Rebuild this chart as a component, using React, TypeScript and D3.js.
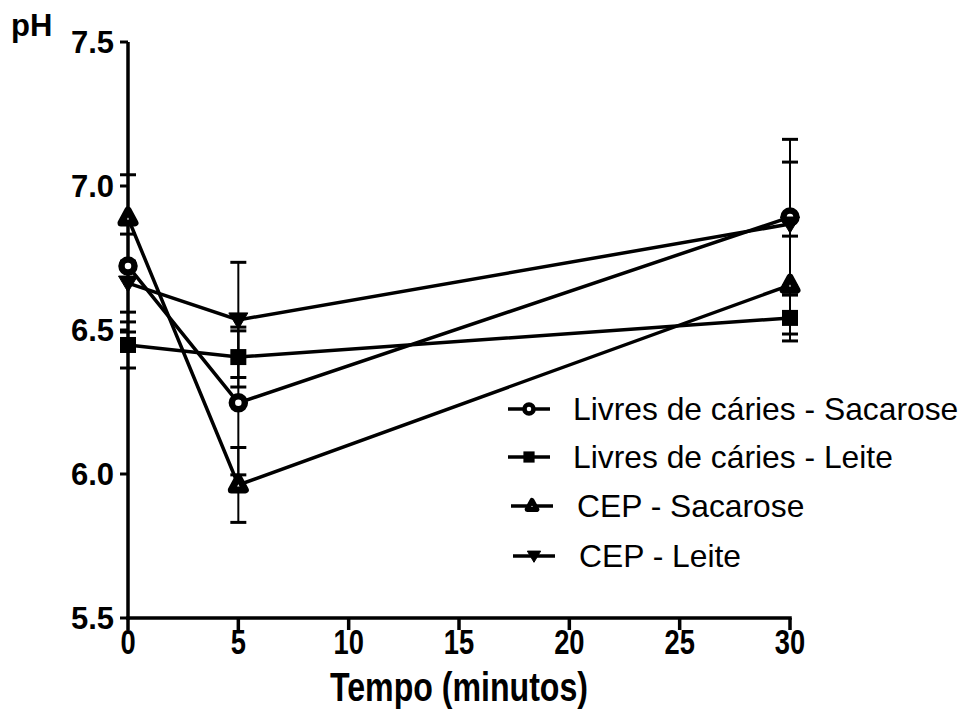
import React from "react";
import * as d3 from "d3";

const times = [0, 5, 30];
const seriesNames = [
  "Livres de cáries - Sacarose",
  "Livres de cáries - Leite",
  "CEP - Sacarose",
  "CEP - Leite",
];
const livresSacarose = [6.722, 6.247, 6.892];
const livresSacaroseErr = [0.16, 0.25, 0.27];
const livresLeite = [6.448, 6.406, 6.542];
const livresLeiteErr = [0.08, 0.104, 0.08];
const cepSacarose = [6.889, 5.962, 6.656];
const cepSacaroseErr = [0.15, 0.13, 0.17];
const cepLeite = [6.663, 6.535, 6.868];
const cepLeiteErr = [0.17, 0.2, 0.215];
const xTicks = [0, 5, 10, 15, 20, 25, 30];
const yTicks = [5.5, 6.0, 6.5, 7.0, 7.5];

const series = [
  { name: seriesNames[0], values: livresSacarose, err: livresSacaroseErr, marker: "circle" },
  { name: seriesNames[1], values: livresLeite, err: livresLeiteErr, marker: "square" },
  { name: seriesNames[2], values: cepSacarose, err: cepSacaroseErr, marker: "triangle" },
  { name: seriesNames[3], values: cepLeite, err: cepLeiteErr, marker: "down" },
];

const x = d3.scaleLinear().domain([0, 30]).range([128, 790]);
const y = d3.scaleLinear().domain([5.5, 7.5]).range([618, 42]);

function Marker({ type, cx, cy, s = 1 }: { type: string; cx: number; cy: number; s?: number }) {
  if (type === "circle") {
    return <circle cx={cx} cy={cy} r={6.5 * s} fill="#fff" stroke="#000" strokeWidth={6.5 * s} />;
  }
  if (type === "square") {
    const h = 8 * s;
    return <rect x={cx - h} y={cy - h} width={2 * h} height={2 * h} fill="#000" />;
  }
  if (type === "triangle") {
    const w = 7 * s;
    const p = `M${cx},${cy - 8 * s}L${cx + w},${cy + 5 * s}L${cx - w},${cy + 5 * s}Z`;
    return <path d={p} fill="#fff" stroke="#000" strokeWidth={7 * s} strokeLinejoin="round" />;
  }
  const w = 9.5 * s;
  const p = `M${cx - w},${cy - 7 * s}L${cx + w},${cy - 7 * s}L${cx},${cy + 9 * s}Z`;
  return <path d={p} fill="#000" stroke="#000" strokeWidth={1} strokeLinejoin="round" />;
}

export default function App() {
  const line = d3
    .line<number>()
    .x((_, i) => x(times[i]))
    .y((v) => y(v));
  const capW = 8;
  const legendRows = [
    { y: 409, x0: 508, x1: 550, mx: 529, tx: 573 },
    { y: 457, x0: 508, x1: 550, mx: 529, tx: 573 },
    { y: 506, x0: 511, x1: 553, mx: 532, tx: 577 },
    { y: 556, x0: 513, x1: 555, mx: 534, tx: 579 },
  ];
  const sans = "'Liberation Sans', Arial, sans-serif";
  return (
    <svg width={968} height={713} style={{ position: "absolute", left: 0, top: 0, background: "#fff" }}>
      <rect width={968} height={713} fill="#fff" />
      {/* error bars */}
      {series.map((s, si) => (
        <g key={"e" + si} stroke="#000" strokeWidth={2}>
          {s.values.map((v, i) => {
            const cx = x(times[i]);
            const hi = y(v + s.err[i]);
            const lo = y(v - s.err[i]);
            return (
              <g key={i}>
                <line x1={cx} x2={cx} y1={hi} y2={lo} />
                <line x1={cx - capW} x2={cx + capW} y1={hi} y2={hi} strokeWidth={3} />
                <line x1={cx - capW} x2={cx + capW} y1={lo} y2={lo} strokeWidth={3} />
              </g>
            );
          })}
        </g>
      ))}
      {/* axes */}
      <g stroke="#000" strokeWidth={3.5} fill="none">
        <line x1={128} x2={128} y1={y(7.5)} y2={y(5.5) + 1.75} />
        <line x1={126.25} x2={x(30) + 1.75} y1={618} y2={618} />
        {yTicks.map((t) => (
          <line key={t} x1={120} x2={128} y1={y(t)} y2={y(t)} strokeWidth={3} />
        ))}
        {xTicks.map((t) => (
          <line key={t} x1={x(t)} x2={x(t)} y1={618} y2={630} strokeWidth={3.5} />
        ))}
      </g>
      {yTicks.map((t) => (
        <text key={t} x={114} y={y(t) + 11} textAnchor="end" fontFamily={sans} fontWeight="bold" fontSize={31}>
          {t.toFixed(1)}
        </text>
      ))}
      {xTicks.map((t) => (
        <text
          key={t}
          transform={`translate(${x(t)},654) scale(0.78,1)`}
          textAnchor="middle"
          fontFamily={sans}
          fontWeight="bold"
          fontSize={35}
        >
          {t}
        </text>
      ))}
      <text
        x={459}
        y={701}
        textAnchor="middle"
        fontFamily={sans}
        fontWeight="bold"
        fontSize={40}
        textLength={258}
        lengthAdjust="spacingAndGlyphs"
      >
        Tempo (minutos)
      </text>
      <text x={11} y={36} fontFamily={sans} fontWeight="bold" fontSize={31}>
        pH
      </text>
      {/* lines */}
      {series.map((s, si) => (
        <path key={"l" + si} d={line(s.values) || ""} fill="none" stroke="#000" strokeWidth={3.5} />
      ))}
      {series.map((s, si) =>
        s.values.map((v, i) => <Marker key={"m" + si + "-" + i} type={s.marker} cx={x(times[i])} cy={y(v)} />)
      )}
      {/* legend */}
      {series.map((s, si) => {
        const r = legendRows[si];
        return (
          <g key={"lg" + si}>
            <line x1={r.x0} x2={r.x1} y1={r.y} y2={r.y} stroke="#000" strokeWidth={3.5} />
            <Marker type={s.marker} cx={r.mx} cy={r.y} s={0.7} />
            <text x={r.tx} y={r.y + 11} fontFamily={sans} fontSize={31.8}>
              {s.name}
            </text>
          </g>
        );
      })}
    </svg>
  );
}
